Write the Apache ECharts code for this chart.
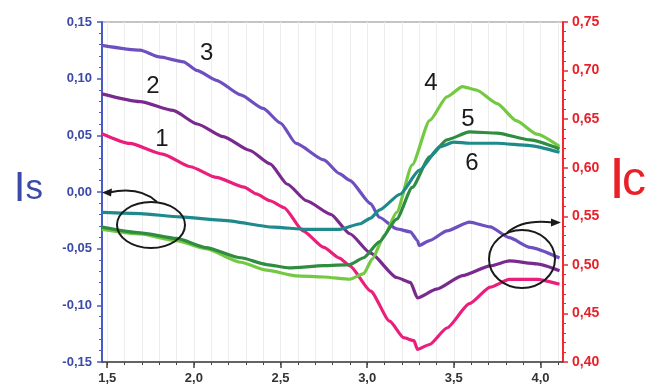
<!DOCTYPE html>
<html>
<head>
<meta charset="utf-8">
<script src="https://cdn.jsdelivr.net/npm/echarts@6/dist/echarts.min.js"></script>
<style>
html,body{margin:0;padding:0;background:#fff;}
#chart{width:648px;height:387px;}
</style>
</head>
<body>
<div id="chart"></div>
<script>
// ---- tick labels ----
var xMajorTicks = [1.5, 2.0, 2.5, 3.0, 3.5, 4.0];
var xMinorTicks = [1.5,1.6,1.7,1.8,1.9,2.0,2.1,2.2,2.3,2.4,2.5,2.6,2.7,2.8,2.9,3.0,3.1,3.2,3.3,3.4,3.5,3.6,3.7,3.8,3.9,4.0,4.1];

// ---- curve 1 (Ic axis) ----
var c1x = [1.47,1.63,1.82,1.98,2.13,2.29,2.36,2.44,2.52,2.63,2.75,2.84,2.90,3.02,3.13,3.21,3.27,3.29,3.36,3.46,3.59,3.71,3.82,3.98,4.11];
var c1y = [0.635,0.625,0.614,0.601,0.590,0.580,0.573,0.566,0.559,0.535,0.518,0.507,0.499,0.473,0.442,0.425,0.422,0.413,0.418,0.435,0.460,0.477,0.485,0.485,0.480];
// ---- curve 2 (Ic axis) ----
var c2x = [1.47,1.69,1.88,2.02,2.17,2.32,2.44,2.54,2.65,2.79,2.90,3.02,3.17,3.25,3.29,3.40,3.55,3.71,3.82,3.98,4.11];
var c2y = [0.676,0.668,0.659,0.645,0.632,0.618,0.604,0.583,0.566,0.552,0.532,0.512,0.487,0.482,0.466,0.475,0.489,0.499,0.504,0.501,0.494];
// ---- curve 3 (Ic axis) ----
var c3x = [1.47,1.69,1.80,1.94,2.02,2.13,2.27,2.40,2.50,2.59,2.75,2.84,2.90,3.02,3.07,3.17,3.25,3.29,3.30,3.36,3.46,3.59,3.71,3.82,3.94,4.11];
var c3y = [0.726,0.721,0.714,0.709,0.700,0.690,0.675,0.661,0.646,0.625,0.608,0.594,0.587,0.563,0.549,0.537,0.534,0.525,0.520,0.525,0.535,0.544,0.539,0.528,0.518,0.507];
// ---- curve 4 (Is axis) ----
var c4x = [1.47,1.69,1.90,2.07,2.27,2.42,2.59,2.75,2.90,2.98,3.03,3.10,3.17,3.26,3.36,3.46,3.55,3.63,3.75,3.86,3.98,4.11];
var c4y = [-0.033,-0.037,-0.043,-0.050,-0.062,-0.069,-0.074,-0.075,-0.077,-0.072,-0.059,-0.038,-0.018,0.024,0.063,0.084,0.093,0.090,0.078,0.063,0.051,0.040];
// ---- curve 5 (Is axis) ----
var c5x = [1.47,1.69,1.90,2.07,2.27,2.42,2.55,2.75,2.90,2.98,3.07,3.17,3.26,3.36,3.46,3.59,3.75,3.94,4.11];
var c5y = [-0.031,-0.036,-0.041,-0.049,-0.058,-0.064,-0.067,-0.065,-0.064,-0.058,-0.044,-0.024,0.004,0.031,0.046,0.053,0.052,0.046,0.038];
// ---- curve 6 (Is axis) ----
var c6x = [1.47,1.69,1.92,2.17,2.46,2.65,2.84,2.96,3.02,3.07,3.19,3.30,3.42,3.50,3.59,3.75,3.94,4.11];
var c6y = [-0.018,-0.019,-0.022,-0.025,-0.031,-0.033,-0.033,-0.028,-0.023,-0.016,-0.002,0.019,0.040,0.044,0.043,0.043,0.041,0.035];

// ---- curve number annotations (data space) ----
var labelText = ['1','2','3','4','5','6'];
var labelX = [1.816, 1.764, 2.074, 3.368, 3.582, 3.605];
var labelY = [0.629, 0.684, 0.718, 0.096, 0.064, 0.025];

function zip(xs, ys){ return xs.map(function(x,i){ return [x, ys[i]]; }); }
function fmt(d){ return function(v){ return v.toFixed(d).replace('.', ','); }; }

var FONT = "'Liberation Sans', Arial, sans-serif";
var colors = ['#ea1f7b','#7a2a8e','#6d4fc0','#74c943','#2f8c40','#1f8a8c'];
var curves = [[c1x,c1y,1],[c2x,c2y,1],[c3x,c3y,1],[c4x,c4y,0],[c5x,c5y,0],[c6x,c6y,0]];

var series = curves.map(function(c, i){
  return {
    type: 'line',
    name: labelText[i],
    yAxisIndex: c[2],
    data: zip(c[0], c[1]),
    smooth: 0.2,
    smoothMonotone: 'x',
    showSymbol: false,
    symbol: 'none',
    lineStyle: { color: colors[i], width: 3.2 },
    z: 3,
    markPoint: {
      symbol: 'circle', symbolSize: 1,
      itemStyle: { color: 'rgba(0,0,0,0)' },
      label: { show: true, position: 'inside', formatter: labelText[i], color: '#1a1a1a', fontSize: 24, fontFamily: FONT },
      data: [{ coord: [labelX[i], labelY[i]] }]
    }
  };
});

var chart = echarts.init(document.getElementById('chart'), null, { renderer: 'canvas' });
chart.setOption({
  animation: false,
  backgroundColor: '#fff',
  grid: { left: 102, right: 85, top: 22, bottom: 25, outerBoundsMode: 'none', containLabel: false, show: true, borderColor: '#8a8a8a', borderWidth: 1, backgroundColor: 'transparent' },
  xAxis: [{
    type: 'value', min: 1.47, max: 4.13,
    axisLine: { onZero: false, lineStyle: { color: '#444', width: 1.5 } },
    axisTick: { show: true, customValues: xMajorTicks, length: 6, lineStyle: { color: '#444', width: 1.5 } },
    axisLabel: { customValues: xMajorTicks, formatter: fmt(1), color: '#333', fontWeight: 'bold', fontSize: 13, fontFamily: FONT, margin: 10 },
    splitLine: { show: false }
  }, {
    type: 'value', min: 1.47, max: 4.13, position: 'bottom',
    axisLine: { show: false, onZero: false },
    axisTick: { show: true, customValues: xMinorTicks, length: 3, lineStyle: { color: '#444', width: 1 } },
    axisLabel: { show: false },
    splitLine: { show: true, lineStyle: { color: '#ededed', width: 1 } }
  }],
  yAxis: [{
    type: 'value', min: -0.15, max: 0.15, interval: 0.05, position: 'left',
    name: '{a|I}{b|s}', nameLocation: 'middle', nameRotate: 0, nameGap: 59,
    nameTextStyle: { padding: [0, 0, 6, 0], rich: { a: { fontSize: 42, color: '#3b49a8', fontFamily: FONT }, b: { fontSize: 35, color: '#3b49a8', fontFamily: FONT } } },
    axisLine: { show: true, onZero: false, lineStyle: { color: '#4a5bc6', width: 2 } },
    axisTick: { show: true, length: 5, lineStyle: { color: '#4a5bc6', width: 1.5 } },
    minorTick: { show: true, splitNumber: 5, length: 3, lineStyle: { color: '#4a5bc6', width: 1 } },
    axisLabel: { formatter: fmt(2), color: '#3b49a8', fontWeight: 'bold', fontSize: 13, fontFamily: FONT, margin: 10 },
    splitLine: { show: false }
  }, {
    type: 'value', min: 0.40, max: 0.75, interval: 0.05, position: 'right',
    name: '{a|I}{b|c}', nameLocation: 'middle', nameRotate: 0, nameGap: 46,
    nameTextStyle: { padding: [0, 0, 20, 0], rich: { a: { fontSize: 58, width: 13, color: '#e8202a', fontFamily: FONT }, b: { fontSize: 48, color: '#e8202a', fontFamily: FONT } } },
    axisLine: { show: true, onZero: false, lineStyle: { color: '#f02a30', width: 2 } },
    axisTick: { show: true, length: 5, lineStyle: { color: '#f02a30', width: 1.5 } },
    minorTick: { show: true, splitNumber: 5, length: 3, lineStyle: { color: '#f02a30', width: 1 } },
    axisLabel: { formatter: fmt(2), color: '#e8202a', fontWeight: 'bold', fontSize: 14, fontFamily: FONT, margin: 9 },
    splitLine: { show: false }
  }],
  series: series,
  graphic: [
    { type: 'ellipse', shape: { cx: 151, cy: 225, rx: 34, ry: 23 }, style: { fill: 'none', stroke: '#1a1a1a', lineWidth: 2 }, z: 10 },
    { type: 'bezierCurve', shape: { x1: 157, y1: 202, cpx1: 140, cpy1: 186, x2: 109, y2: 192.5 }, style: { fill: 'none', stroke: '#1a1a1a', lineWidth: 2 }, z: 10 },
    { type: 'polygon', shape: { points: [[102, 192.5], [112, 188.5], [111, 196.5]] }, style: { fill: '#1a1a1a' }, z: 10 },
    { type: 'ellipse', shape: { cx: 522, cy: 259, rx: 33, ry: 29 }, style: { fill: 'none', stroke: '#1a1a1a', lineWidth: 2 }, z: 10 },
    { type: 'bezierCurve', shape: { x1: 507, y1: 233, cpx1: 522, cpy1: 219, x2: 553, y2: 222.5 }, style: { fill: 'none', stroke: '#1a1a1a', lineWidth: 2 }, z: 10 },
    { type: 'polygon', shape: { points: [[561, 222.5], [551, 218.5], [551, 226.5]] }, style: { fill: '#1a1a1a' }, z: 10 }
  ]
});
</script>
</body>
</html>
